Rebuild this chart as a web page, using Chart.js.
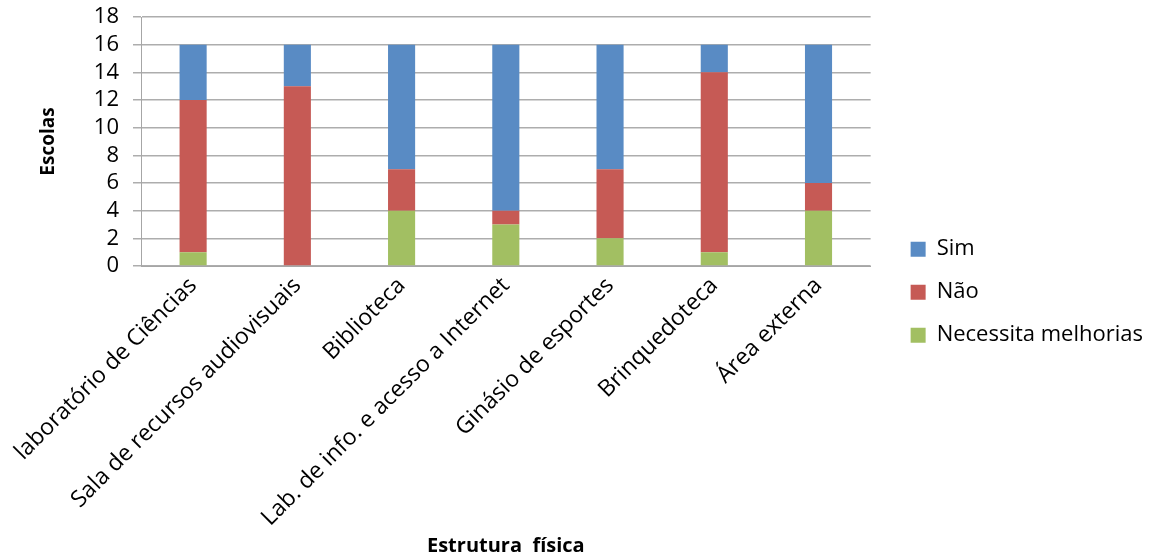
<!DOCTYPE html>
<html>
<head>
<meta charset="utf-8">
<script src="https://cdn.jsdelivr.net/npm/chart.js@4/dist/chart.umd.min.js"></script>
<style>
  html, body { margin: 0; padding: 0; background: #fff; }
  #wrap { width: 1153px; height: 558px; }
</style>
</head>
<body>
<div id="wrap"><canvas id="estruturaChart"></canvas></div>
<script>
// --- dados ---
const categorias = [
    'laboratório de Ciências',
    'Sala de recursos audiovisuais',
    'Biblioteca',
    'Lab. de info. e acesso a Internet',
    'Ginásio de esportes',
    'Brinquedoteca',
    'Área externa'
];
const necessitaMelhorias = [1, 0, 4, 3, 2, 1, 4];
const nao = [11, 13, 3, 1, 5, 13, 2];
const sim = [4, 3, 9, 12, 9, 2, 10];
const yTicks = [0, 2, 4, 6, 8, 10, 12, 14, 16, 18];

const fonte = "'Open Sans', 'Liberation Sans', sans-serif";

document.addEventListener('DOMContentLoaded', () => {
    const ctx = document.getElementById('estruturaChart');

    const data = {
        labels: categorias,
        datasets: [
            { label: 'Necessita melhorias', data: necessitaMelhorias, backgroundColor: '#A2BF62' },
            { label: 'Não', data: nao, backgroundColor: '#C65A55' },
            { label: 'Sim', data: sim, backgroundColor: '#598BC4' }
        ].map(ds => Object.assign(ds, { barPercentage: 0.26, categoryPercentage: 1, borderWidth: 0 }))
    };

    new Chart(ctx, {
        type: 'bar',
        data: data,
        options: {
            responsive: true,
            maintainAspectRatio: false,
            animation: false,
            layout: { padding: { top: 6, left: 30, right: 0, bottom: 0 } },
            scales: {
                x: {
                    stacked: true,
                    grid: { display: false, drawTicks: false },
                    border: { color: '#A6A6A6' },
                    ticks: {
                        color: '#000',
                        font: { family: fonte, size: 23 },
                        minRotation: 45,
                        maxRotation: 45,
                        autoSkip: false,
                        padding: 6
                    },
                    title: {
                        display: true,
                        text: 'Estrutura  física',
                        color: '#000',
                        font: { family: fonte, size: 20, weight: 'bold' },
                        padding: { top: 0, bottom: 0 }
                    },
                    afterFit: scale => { scale.height = 292; }
                },
                y: {
                    stacked: true,
                    min: 0,
                    max: 18,
                    afterBuildTicks: scale => { scale.ticks = yTicks.map(v => ({ value: v })); },
                    grid: { color: '#ADADAD', lineWidth: 1.5, tickLength: 8 },
                    border: { color: '#A6A6A6' },
                    ticks: {
                        color: '#000',
                        font: { family: fonte, size: 22 },
                        autoSkip: false,
                        padding: 14
                    },
                    title: {
                        display: true,
                        text: 'Escolas',
                        color: '#000',
                        font: { family: fonte, size: 19, weight: 'bold' },
                        padding: { top: 7, bottom: 20 }
                    },
                    afterFit: scale => {
                        scale.width = 111;
                        scale.paddingTop = 17;
                        scale.paddingBottom = 17;
                    }
                },
                // espaço vazio entre a área do gráfico e a legenda
                espaco: {
                    position: 'right',
                    display: true,
                    grid: { display: false },
                    border: { display: false },
                    ticks: { display: false },
                    afterFit: scale => { scale.width = 19; }
                }
            },
            plugins: {
                legend: {
                    position: 'right',
                    reverse: true,
                    maxWidth: 320,
                    title: {
                        display: true,
                        text: ' ',
                        font: { size: 12 },
                        padding: 3
                    },
                    labels: {
                        color: '#000',
                        font: { family: fonte, size: 22 },
                        boxWidth: 15,
                        boxHeight: 15,
                        padding: 21
                    }
                },
                tooltip: { enabled: false }
            }
        }
    });
});
</script>
</body>
</html>
